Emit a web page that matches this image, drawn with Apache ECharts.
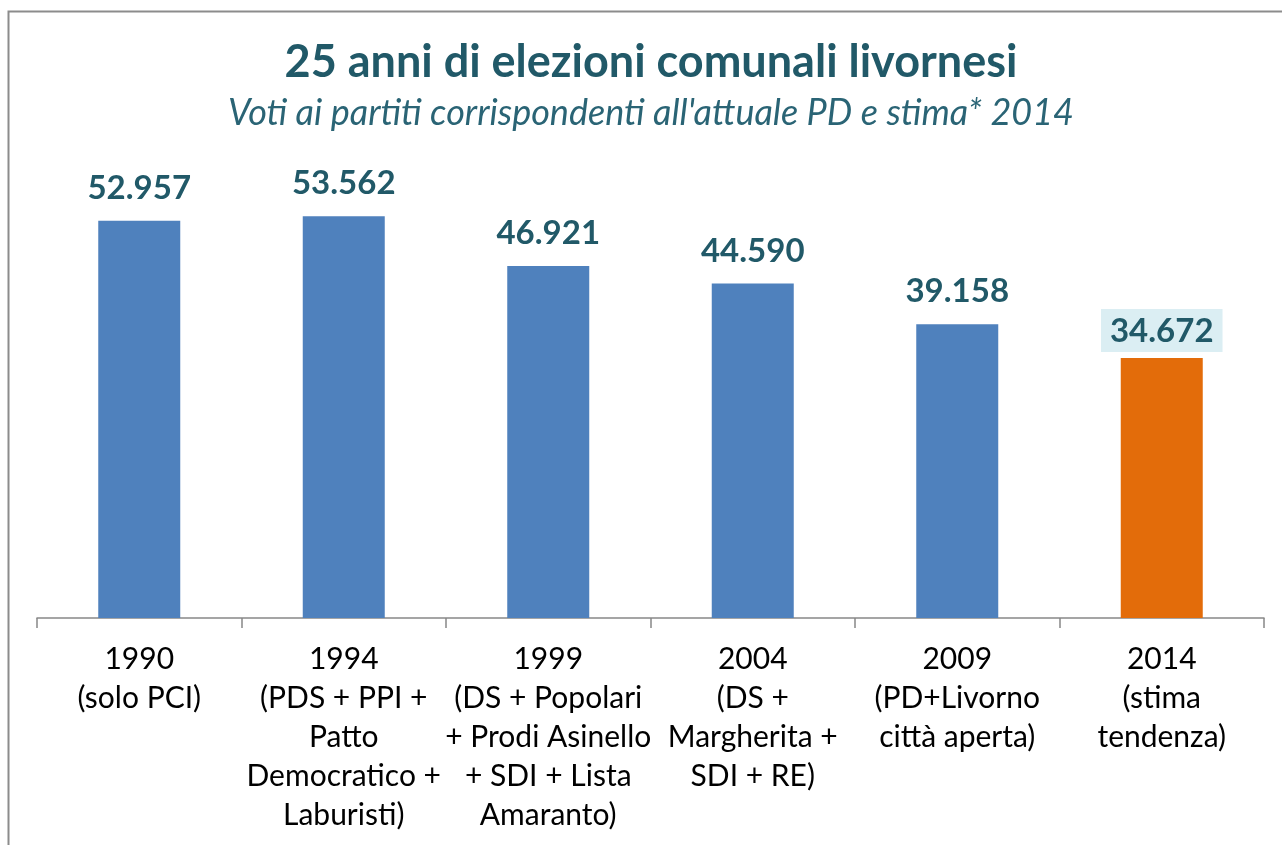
<!DOCTYPE html>
<html>
<head>
<meta charset="utf-8">
<script src="https://cdn.jsdelivr.net/npm/echarts@6/dist/echarts.min.js"></script>
<style>
  html, body { margin: 0; padding: 0; background: #fff; }
  #chart { width: 1282px; height: 845px; }
</style>
</head>
<body>
<div id="chart"></div>
<script>
// dati
const categories = [
  "1990\n(solo PCI)",
  "1994\n(PDS + PPI +\nPatto\nDemocratico +\nLaburisti)",
  "1999\n(DS + Popolari\n+ Prodi Asinello\n+ SDI + Lista\nAmaranto)",
  "2004\n(DS +\nMargherita +\nSDI + RE)",
  "2009\n(PD+Livorno\ncittà aperta)",
  "2014\n(stima\ntendenza)"
];
const voti = [52957, 53562, 46921, 44590, 39158, 34672];
const stimaIndex = 5; // ultimo valore = stima

const fontFam = "Lato, 'Open Sans', sans-serif";
const teal = "#215968";

// formato italiano 52.957
function fmt(v) {
  return String(v).replace(/\B(?=(\d{3})+(?!\d))/g, ".");
}

const chart = echarts.init(document.getElementById("chart"));
chart.setOption({
  animation: false,
  title: {
    text: "25 anni di elezioni comunali livornesi",
    subtext: "Voti ai partiti corrispondenti all'attuale PD e stima* 2014",
    left: 651,
    top: 38,
    padding: 0,
    textAlign: "center",
    itemGap: 7,
    textStyle: { fontFamily: fontFam, fontSize: 45, lineHeight: 48, fontWeight: "bold", color: teal },
    subtextStyle: { fontFamily: fontFam, fontSize: 36, lineHeight: 40, fontStyle: "italic", color: "#2a6475" }
  },
  grid: { left: 37, right: 18, top: 168, bottom: 227 },
  xAxis: {
    type: "category",
    data: categories,
    axisLine: { lineStyle: { color: "#888", width: 1.5 } },
    axisTick: { show: true, length: 10, lineStyle: { color: "#888", width: 1.5 } },
    axisLabel: {
      interval: 0,
      margin: 22,
      fontFamily: fontFam,
      fontSize: 30,
      lineHeight: 39,
      color: "#000"
    }
  },
  yAxis: {
    type: "value",
    min: 0,
    max: 60000,
    show: false,
    splitLine: { show: false }
  },
  graphic: [
    {
      // cornice grigia
      type: "rect",
      shape: { x: 8.5, y: 11.5, width: 1400, height: 900 },
      style: { fill: "none", stroke: "#8c8c8c", lineWidth: 2 },
      silent: true
    }
  ],
  series: [
    {
      type: "bar",
      barWidth: 82,
      data: voti.map((v, i) => ({
        value: v,
        itemStyle: { color: i === stimaIndex ? "#E36C0A" : "#4F81BD" },
        label: i === stimaIndex
          ? { backgroundColor: "#DBEEF3", padding: [6, 9, 4, 9], distance: 6 }
          : {}
      })),
      label: {
        show: true,
        position: "top",
        distance: 16,
        formatter: p => fmt(p.value),
        fontFamily: fontFam,
        fontSize: 33,
        fontWeight: "bold",
        color: teal
      }
    }
  ]
});
</script>
</body>
</html>
